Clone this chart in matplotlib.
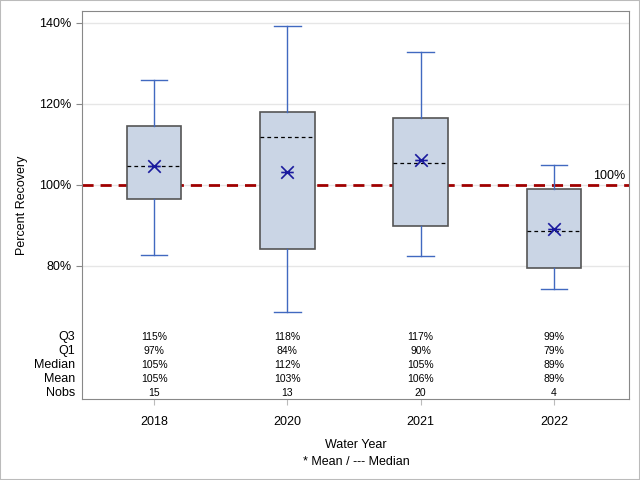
import matplotlib
matplotlib.use("Agg")
import matplotlib.pyplot as plt
from matplotlib.patches import Rectangle
from matplotlib.path import Path

plt.rcParams['font.family'] = ['Liberation Sans', 'DejaVu Sans']

# data
years = ["2018", "2020", "2021", "2022"]
whislo = [82.7, 68.6, 82.5, 74.2]
q1 = [96.6, 84.2, 89.9, 79.4]
med = [104.7, 111.9, 105.4, 88.6]
mean = [104.7, 103.2, 106.2, 89.1]
q3 = [114.6, 118.0, 116.6, 98.9]
whishi = [125.9, 139.3, 132.8, 104.9]
nobs = [15, 13, 20, 4]
yticks = [80, 100, 120, 140]

fig = plt.figure(figsize=(6.4, 4.8), dpi=100)
ax = fig.add_axes([82/640, 1 - 399/480, (629-82)/640, (399-11)/480])

stats = []
for i in range(len(years)):
    stats.append(dict(whislo=whislo[i], q1=q1[i], med=med[i], mean=mean[i],
                      q3=q3[i], whishi=whishi[i], fliers=[]))
pos = list(range(len(years)))

# SAS-style asterisk: an X with a horizontal bar
M, L = Path.MOVETO, Path.LINETO
star = Path([(-1, -1), (1, 1), (-1, 1), (1, -1), (-1, 0), (1, 0)],
            [M, L, M, L, M, L])

# gridlines and reference line below boxes
for t in yticks:
    ax.axhline(t, color='#E6E6E6', lw=1, zorder=0)
ax.axhline(100, color='#A00000', lw=2, ls=(0, (4, 2.5)), zorder=1)
ax.text(3.535, 100.8, "100%", ha='right', va='bottom', fontsize=9)

ax.bxp(stats, positions=pos, widths=0.41, patch_artist=True, showmeans=True,
       boxprops=dict(facecolor='#CAD5E5', edgecolor='#555555', lw=1.2),
       whiskerprops=dict(color='#4169C0', lw=1),
       capprops=dict(color='#4169C0', lw=1),
       capwidths=0.2,
       medianprops=dict(color='black', lw=0.9, ls=(0, (3, 2.5))),
       meanprops=dict(marker=star, markeredgecolor='#1A1A9E',
                      markerfacecolor='none', markersize=9, mew=1.2),
       zorder=2)

ax.set_xlim(-0.541, 3.564)
ax.set_ylim(47.16, 142.96)
ax.set_yticks(yticks)
ax.set_yticklabels([f"{t}%" for t in yticks], fontsize=9)
ax.set_xticks(pos)
ax.set_xticklabels(years, fontsize=9)
ax.tick_params(axis='x', length=4, color='#BBBBBB', pad=8)
ax.tick_params(axis='y', length=4, color='#888888')
for s in ax.spines.values():
    s.set_color('#888888')
ax.set_ylabel("Percent Recovery", fontsize=9, labelpad=8)
ax.set_xlabel("Water Year", fontsize=9, labelpad=8)

# stats table inside the bottom of the axes
rows = ["Q3", "Q1", "Median", "Mean", "Nobs"]
vals = [q3, q1, med, mean, nobs]
ypos = [0.160, 0.124, 0.088, 0.052, 0.015]
trans = ax.get_xaxis_transform()
for r, v, yy in zip(rows, vals, ypos):
    ax.text(-0.013, yy, r, transform=ax.transAxes, ha='right', va='center', fontsize=9)
    for i in pos:
        s = str(v[i]) if r == "Nobs" else f"{round(v[i])}%"
        ax.text(i, yy, s, transform=trans, ha='center', va='center', fontsize=7.5)

fig.text(356/640, 1 - 462/480, "* Mean / --- Median", ha='center', va='center', fontsize=9)
fig.patches.append(Rectangle((0, 0), 1, 1, transform=fig.transFigure, fill=False,
                             edgecolor='#BBBBBB', lw=1.5))
fig.savefig("out.png", dpi=100)
